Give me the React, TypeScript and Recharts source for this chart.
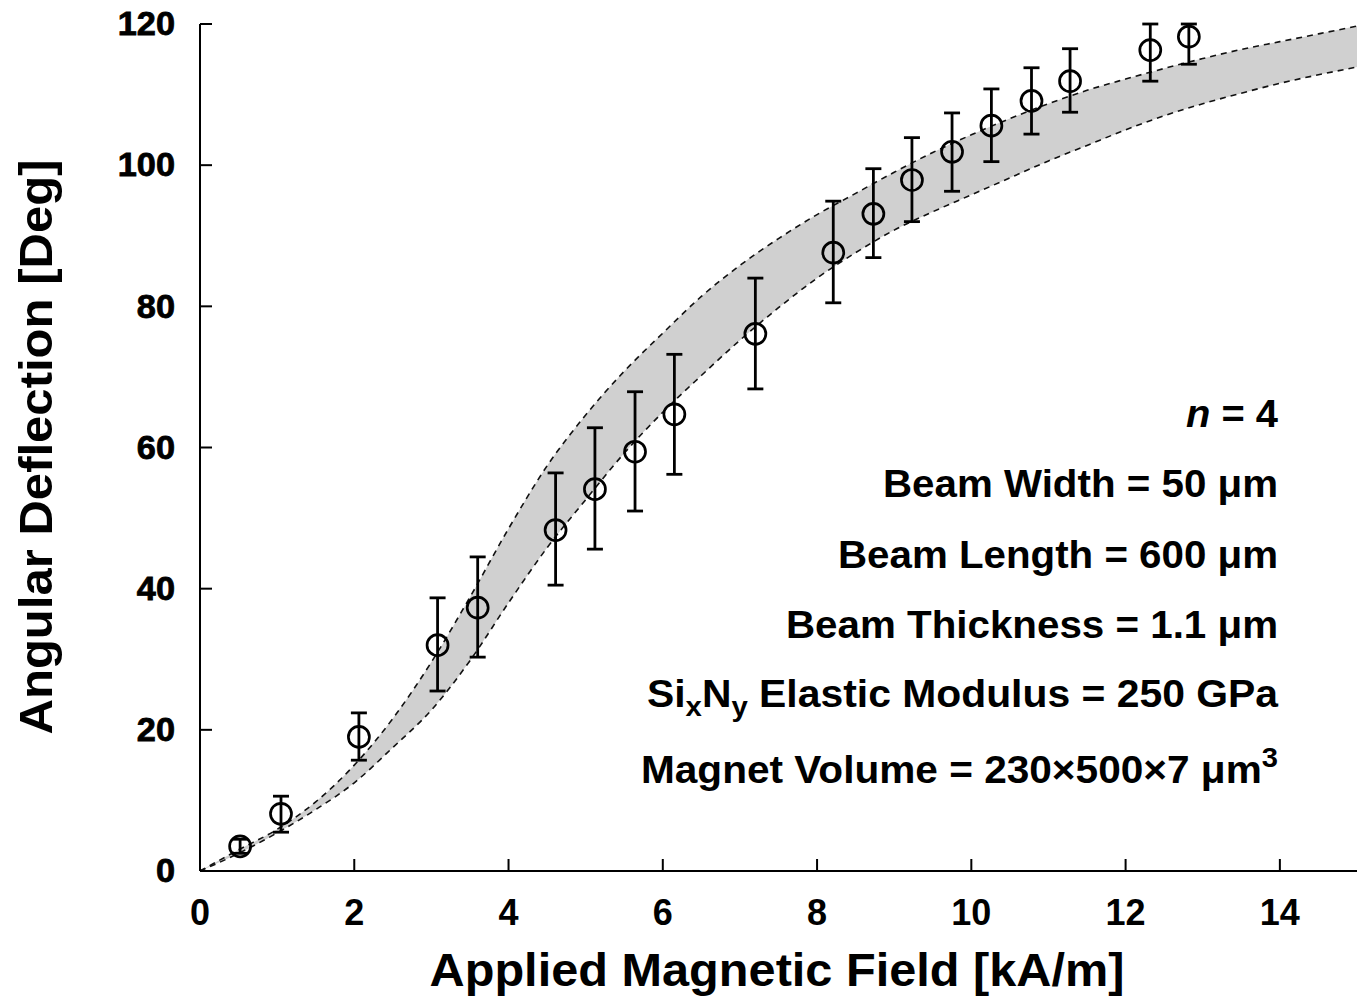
import React from 'react';
import { ComposedChart, XAxis, YAxis, Area, Line, Scatter, ErrorBar } from 'recharts';

// Measured data (applied field kA/m, deflection deg)
const fieldX = [0.52, 1.05, 2.06, 3.08, 3.60, 4.61, 5.12, 5.64, 6.15, 7.20, 8.21, 8.73, 9.23, 9.75, 10.26, 10.78, 11.28, 12.32, 12.82];
const deflY = [3.5, 8.1, 19.0, 32.0, 37.3, 48.3, 54.1, 59.4, 64.7, 76.1, 87.6, 93.1, 97.9, 101.9, 105.6, 109.1, 111.9, 116.3, 118.2];
const errDown = [1.0, 2.6, 3.3, 6.5, 7.0, 7.8, 8.5, 8.4, 8.5, 7.8, 7.1, 6.2, 5.9, 5.6, 5.1, 4.7, 4.4, 4.4, 3.9];
const errUp = [1.0, 2.5, 3.4, 6.7, 7.2, 8.1, 8.7, 8.5, 8.5, 7.9, 7.3, 6.4, 6.0, 5.5, 5.2, 4.7, 4.6, 3.7, 1.8];

// Model band
const bandX = [0, 0.5, 1, 1.5, 2, 2.5, 3, 3.5, 4, 4.5, 5, 5.5, 6, 6.5, 7, 7.5, 8, 8.5, 9, 9.5, 10, 10.5, 11, 11.5, 12, 12.5, 13, 13.5, 14, 14.5, 15];
const bandLower = [0, 2.5, 5.4, 8.7, 12.5, 17.5, 22.8, 29.8, 38.0, 45.8, 52.6, 59.2, 65.0, 70.2, 75.2, 79.8, 84.0, 87.6, 90.8, 93.4, 95.8, 98.2, 100.6, 102.8, 105.0, 107.0, 108.7, 110.2, 111.6, 112.8, 113.9];
const bandUpper = [0, 3.0, 5.9, 9.8, 15.0, 21.6, 29.6, 38.8, 48.5, 57.4, 64.6, 70.8, 76.2, 81.4, 85.8, 89.6, 93.0, 96.0, 99.0, 101.8, 104.3, 106.6, 108.7, 110.6, 112.2, 113.7, 115.1, 116.4, 117.5, 118.6, 119.7];

const xTicks = [0, 2, 4, 6, 8, 10, 12, 14];
const yTicks = [0, 20, 40, 60, 80, 100, 120];

const xTitle = 'Applied Magnetic Field [kA/m]';
const yTitle = 'Angular Deflection [Deg]';

const pointData = fieldX.map((x, i) => ({ x, y: deflY[i], err: [errDown[i], errUp[i]] }));
const bandData = bandX.map((x, i) => ({ x, lo: bandLower[i], hi: bandUpper[i], range: [bandLower[i], bandUpper[i]] }));

const FONT = '"Liberation Sans", Arial, Helvetica, sans-serif';
const W = 1363;
const H = 1002;
const TICK = 12;

const LeftTick = (props: any) => {
  const { x, y, payload } = props;
  return (
    <g>
      <line x1={x} x2={x + TICK} y1={y} y2={y} stroke="#000" strokeWidth={2} />
      <text
        transform={`translate(${x - 25},${y}) scale(1.04,1)`}
        x={0}
        y={0}
        textAnchor="end"
        dominantBaseline="central"
        fontSize={33}
        fontWeight="bold"
        fontFamily={FONT}
        fill="#000"
        stroke="#000"
        strokeWidth={0.8}
      >
        {payload.value}
      </text>
    </g>
  );
};

const BottomTick = (props: any) => {
  const { x, y, payload } = props;
  return (
    <g>
      <line x1={x} x2={x} y1={y} y2={y - TICK} stroke="#000" strokeWidth={2} />
      <text x={x} y={y + 54} textAnchor="middle" fontSize={36} fontWeight="bold" fontFamily={FONT} fill="#000">
        {payload.value}
      </text>
    </g>
  );
};

const TopTick = (props: any) => {
  const { x, y } = props;
  return <line x1={x} x2={x} y1={y} y2={y + TICK} stroke="#000" strokeWidth={2} />;
};

const RightTick = (props: any) => {
  const { x, y } = props;
  return <line x1={x} x2={x - TICK} y1={y} y2={y} stroke="#000" strokeWidth={2} />;
};

const Circle = (props: any) => {
  const { cx, cy } = props;
  if (cx == null || cy == null) return null;
  return <circle cx={cx} cy={cy} r={10.5} fill="none" stroke="#000" strokeWidth={2.7} />;
};

const annoStyle = { fontSize: 39, fontWeight: 'bold' as const, fontFamily: FONT, fill: '#000' };

export default function App() {
  return (
    <div style={{ position: 'absolute', left: 0, top: 0, width: W, height: H, background: '#fff' }}>
      <ComposedChart width={W} height={H} margin={{ top: 24, right: 6, bottom: 0, left: 0 }}>
        <XAxis
          xAxisId="b"
          dataKey="x"
          type="number"
          domain={[0, 15]}
          ticks={xTicks}
          interval={0}
          allowDataOverflow
          height={131}
          tickSize={0}
          tickMargin={0}
          tickLine={false}
          tick={<BottomTick />}
          axisLine={{ stroke: '#000', strokeWidth: 2 }}
        />
        <XAxis
          xAxisId="t"
          orientation="top"
          type="number"
          domain={[0, 15]}
          ticks={xTicks}
          interval={0}
          allowDataOverflow
          height={0}
          tickSize={0}
          tickMargin={0}
          tickLine={false}
          tick={<TopTick />}
          axisLine={{ stroke: '#000', strokeWidth: 2 }}
        />
        <YAxis
          yAxisId="l"
          type="number"
          domain={[0, 120]}
          ticks={yTicks}
          interval={0}
          allowDataOverflow
          width={200}
          tickSize={0}
          tickMargin={0}
          tickLine={false}
          tick={<LeftTick />}
          axisLine={{ stroke: '#000', strokeWidth: 2 }}
        />
        <YAxis
          yAxisId="r"
          orientation="right"
          type="number"
          domain={[0, 120]}
          ticks={yTicks}
          interval={0}
          allowDataOverflow
          width={0}
          tickSize={0}
          tickMargin={0}
          tickLine={false}
          tick={<RightTick />}
          axisLine={{ stroke: '#000', strokeWidth: 2 }}
        />
        <Area
          xAxisId="b"
          yAxisId="l"
          data={bandData}
          dataKey="range"
          type="monotone"
          fill="#d0d0d0"
          fillOpacity={1}
          stroke="none"
          isAnimationActive={false}
          activeDot={false}
        />
        <Line
          xAxisId="b"
          yAxisId="l"
          data={bandData}
          dataKey="hi"
          type="monotone"
          stroke="#111"
          strokeWidth={1.6}
          strokeDasharray="6 5"
          dot={false}
          activeDot={false}
          isAnimationActive={false}
        />
        <Line
          xAxisId="b"
          yAxisId="l"
          data={bandData}
          dataKey="lo"
          type="monotone"
          stroke="#111"
          strokeWidth={1.6}
          strokeDasharray="6 5"
          dot={false}
          activeDot={false}
          isAnimationActive={false}
        />
        <Scatter
          xAxisId="b"
          yAxisId="l"
          data={pointData}
          dataKey="y"
          shape={<Circle />}
          isAnimationActive={false}
        >
          <ErrorBar dataKey="err" direction="y" width={8} stroke="#000" strokeWidth={2.8} />
        </Scatter>
      </ComposedChart>
      <svg width={W} height={H} style={{ position: 'absolute', left: 0, top: 0, pointerEvents: 'none' }}>
        <text x={777} y={986} textAnchor="middle" fontSize={47} fontWeight="bold" fontFamily={FONT} fill="#000" textLength={695} lengthAdjust="spacingAndGlyphs">
          {xTitle}
        </text>
        <text x={52} y={447} transform="rotate(-90, 52, 447)" textAnchor="middle" fontSize={47} fontWeight="bold" fontFamily={FONT} fill="#000" textLength={575} lengthAdjust="spacingAndGlyphs">
          {yTitle}
        </text>
        <text x={1278} y={427} textAnchor="end" {...annoStyle} textLength={92} lengthAdjust="spacingAndGlyphs">
          <tspan fontStyle="italic">n</tspan> = 4
        </text>
        <text x={1278} y={497} textAnchor="end" {...annoStyle} textLength={395} lengthAdjust="spacingAndGlyphs">
          Beam Width = 50 μm
        </text>
        <text x={1278} y={568} textAnchor="end" {...annoStyle} textLength={440} lengthAdjust="spacingAndGlyphs">
          Beam Length = 600 μm
        </text>
        <text x={1278} y={638} textAnchor="end" {...annoStyle} textLength={492} lengthAdjust="spacingAndGlyphs">
          Beam Thickness = 1.1 μm
        </text>
        <text x={1278} y={707} textAnchor="end" {...annoStyle} textLength={631} lengthAdjust="spacingAndGlyphs">
          Si<tspan fontSize={28} dy={9}>x</tspan><tspan dy={-9}>N</tspan><tspan fontSize={28} dy={9}>y</tspan><tspan dy={-9}> Elastic Modulus = 250 GPa</tspan>
        </text>
        <text x={1278} y={783} textAnchor="end" {...annoStyle} textLength={637} lengthAdjust="spacingAndGlyphs">
          Magnet Volume = 230×500×7 μm<tspan fontSize={28} dy={-16}>3</tspan>
        </text>
      </svg>
    </div>
  );
}
